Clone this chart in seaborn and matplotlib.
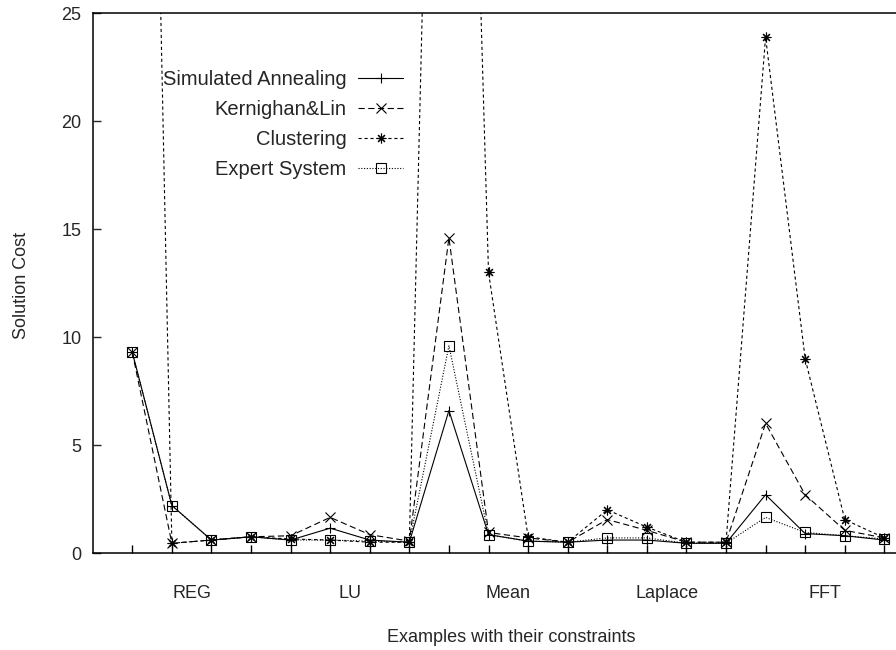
import numpy as np
import pandas as pd
import matplotlib
matplotlib.use("Agg")
import matplotlib.pyplot as plt
import seaborn as sns

# ---- data ----
x_idx = list(range(1, 21))
groups = ["REG", "LU", "Mean", "Laplace", "FFT"]
group_pos = [2.5, 6.5, 10.5, 14.5, 18.5]
series_names = ["Simulated Annealing", "Kernighan&Lin", "Clustering", "Expert System"]
sim_annealing = [9.3, 2.2, 0.6, 0.75, 0.6, 1.15, 0.6, 0.5, 6.6, 0.85,
                 0.55, 0.5, 0.6, 0.6, 0.45, 0.45, 2.7, 0.9, 0.8, 0.6]
kernighan_lin = [9.3, 0.45, 0.6, 0.75, 0.8, 1.65, 0.85, 0.55, 14.6, 0.95,
                 0.7, 0.5, 1.55, 1.05, 0.5, 0.5, 6.0, 2.7, 1.05, 0.7]
clustering = [88.0, 0.45, 0.6, 0.75, 0.65, 0.6, 0.5, 0.5, 76.0, 13.0,
              0.75, 0.5, 2.0, 1.2, 0.5, 0.5, 23.9, 9.0, 1.55, 0.7]
expert_system = [9.3, 2.2, 0.6, 0.75, 0.6, 0.6, 0.55, 0.5, 9.6, 0.85,
                 0.55, 0.5, 0.7, 0.7, 0.45, 0.45, 1.65, 0.95, 0.8, 0.65]
y_ticks = [0, 5, 10, 15, 20, 25]

sns.set_style("ticks")
plt.rcParams["font.family"] = ["Liberation Sans", "DejaVu Sans"]
plt.rcParams["lines.scale_dashes"] = False

fig = plt.figure(figsize=(8.96, 6.5), dpi=100)
W, H = 896, 650
x0_px, x21_px = 92.7, 923.9
top_px, bot_px = 13.3, 553.0
ax = fig.add_axes([x0_px / W, (H - bot_px) / H, (x21_px - x0_px) / W, (bot_px - top_px) / H])

styles = {
    "Simulated Annealing": dict(marker="+", ls="-", ms=7, mfc="k"),
    "Kernighan&Lin": dict(marker="x", ls=(0, (4.5, 2.5)), ms=6.5, mfc="k"),
    "Clustering": dict(marker=(8, 2, 0), ls=(0, (2.3, 2.0)), ms=7, mfc="k"),
    "Expert System": dict(marker="s", ls=(0, (0.8, 1.2)), ms=6.5, mfc="none"),
}
values = {
    "Simulated Annealing": sim_annealing,
    "Kernighan&Lin": kernighan_lin,
    "Clustering": clustering,
    "Expert System": expert_system,
}

handles = []
for name in series_names:
    df = pd.DataFrame({"x": x_idx, "y": values[name]})
    st = styles[name]
    sns.lineplot(data=df, x="x", y="y", ax=ax, color="black", lw=0.8,
                 marker=st["marker"], markersize=st["ms"],
                 markerfacecolor=st["mfc"], markeredgecolor="black",
                 markeredgewidth=0.8, linestyle=st["ls"], label=name,
                 legend=False)
    handles.append(ax.lines[-1])

ax.set_xlim(0, 21)
ax.set_ylim(0, 25)
ax.set_yticks(y_ticks)
ax.set_xticks(x_idx)
ax.set_xticklabels([])
ax.set_xticks(group_pos, minor=True)
ax.set_xticklabels(groups, minor=True)
ax.tick_params(axis="x", which="major", direction="in", length=5.5, width=1, colors="black")
ax.tick_params(axis="x", which="minor", length=0, pad=23, labelsize=13)
ax.tick_params(axis="y", direction="in", length=6, width=1, pad=8, labelsize=13)
for s in ["left", "bottom", "top", "right"]:
    ax.spines[s].set_visible(True)
    ax.spines[s].set_color("black")
    ax.spines[s].set_linewidth(1.1)

ax.set_xlabel("Examples with their constraints", fontsize=13)
ax.xaxis.set_label_coords((511 - x0_px) / (x21_px - x0_px), (bot_px - 637) / (bot_px - top_px))
ax.xaxis.label.set_va("center")
ax.set_ylabel("Solution Cost", fontsize=13)
ax.yaxis.set_label_coords((21 - x0_px) / (x21_px - x0_px), (bot_px - 285) / (bot_px - top_px))
ax.yaxis.label.set_va("center")

leg = ax.legend(handles, series_names, loc="upper right",
                bbox_to_anchor=(403.3 / W, 1 - 70 / H), bbox_transform=fig.transFigure,
                frameon=False, markerfirst=False, numpoints=1, fontsize=14.5,
                handlelength=2.23, handletextpad=0.58, labelspacing=0.54,
                borderpad=0, borderaxespad=0)

fig.savefig("out.png", dpi=100)
